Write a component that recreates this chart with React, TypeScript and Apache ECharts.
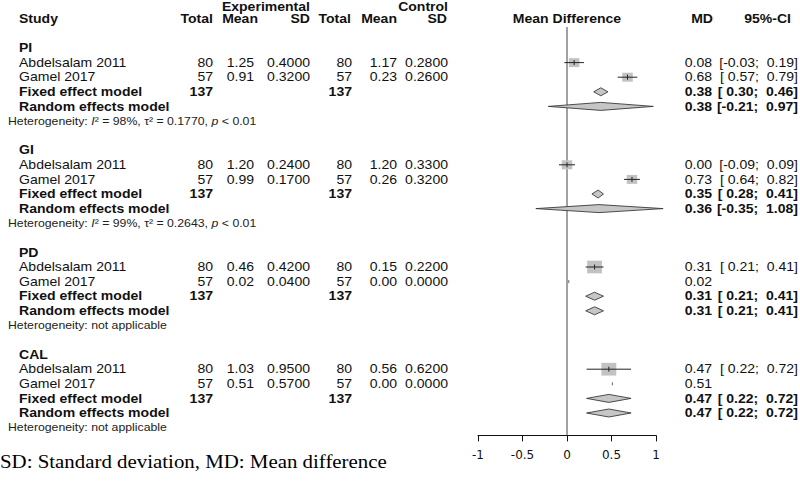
import React, { useEffect, useRef } from 'react';
import * as echarts from 'echarts';

// ---------- data ----------
const outcomes = ['PI', 'GI', 'PD', 'CAL'];
const studyNames = ['Abdelsalam 2011', 'Gamel 2017'];
const expTotal = [80, 57];
const ctrlTotal = [80, 57];
const expMean = [[1.25, 0.91], [1.2, 0.99], [0.46, 0.02], [1.03, 0.51]];
const expSD = [[0.4, 0.32], [0.24, 0.17], [0.42, 0.04], [0.95, 0.57]];
const ctrlMean = [[1.17, 0.23], [1.2, 0.26], [0.15, 0.0], [0.56, 0.0]];
const ctrlSD = [[0.28, 0.26], [0.33, 0.32], [0.22, 0.0], [0.62, 0.0]];
const studyMD = [[0.08, 0.68], [0.0, 0.73], [0.31, 0.02], [0.47, 0.51]];
const studyLow: (number | null)[][] = [[-0.03, 0.57], [-0.09, 0.64], [0.21, null], [0.22, null]];
const studyHigh: (number | null)[][] = [[0.19, 0.79], [0.09, 0.82], [0.41, null], [0.72, null]];
const studyWeight = [[50, 50], [50, 50], [100, 0], [100, 0]];
const fixedMD = [0.38, 0.35, 0.31, 0.47];
const fixedLow = [0.3, 0.28, 0.21, 0.22];
const fixedHigh = [0.46, 0.41, 0.41, 0.72];
const randomMD = [0.38, 0.36, 0.31, 0.47];
const randomLow = [-0.21, -0.35, 0.21, 0.22];
const randomHigh = [0.97, 1.08, 0.41, 0.72];
const hetI2 = [98, 99, null, null];
const hetTau2 = [0.177, 0.2643, null, null];
const hetP = ['< 0.01', '< 0.01', null, null];
const xTicks = [-1, -0.5, 0, 0.5, 1];
const footnote = 'SD: Standard deviation, MD: Mean difference';

// ---------- layout / style ----------
const W = 800;
const H = 484;
const ROW0 = 48; // pixel y of row 0
const PITCH = 14.6; // px per row
const AXIS_Y = 435.4; // pixel y of the x axis line
const Y_MIN = -3;
const Y_MAX = (AXIS_Y - ROW0) / PITCH;
const SX = 1.17; // horizontal stretch of the original figure
const FONT = '"Liberation Sans", Arial, Helvetica, sans-serif';
const TXT = '#111';
const COL = {
  study: 19,
  expN: 213,
  expMean: 254,
  expSD: 310,
  ctrlN: 352,
  ctrlMean: 397,
  ctrlSD: 448,
  md: 712,
  ci: 798,
  het: 8,
};

const f2 = (v: number) => v.toFixed(2);
const f4 = (v: number) => v.toFixed(4);
const pad = (v: number) => (v < 0 ? v.toFixed(2) : ' ' + v.toFixed(2));
const ci = (lo: number | null, hi: number | null) =>
  lo === null || hi === null ? '' : `[${pad(lo)}; ${pad(hi)}]`;

type Row = { k: number; kind: string; g: number; s: number };
const rows: Row[] = [];
outcomes.forEach((_, g) => {
  const base = g * 7;
  rows.push({ k: base, kind: 'group', g, s: -1 });
  studyNames.forEach((__, s) => rows.push({ k: base + 1 + s, kind: 'study', g, s }));
  rows.push({ k: base + 3, kind: 'fixed', g, s: -1 });
  rows.push({ k: base + 4, kind: 'random', g, s: -1 });
  rows.push({ k: base + 5, kind: 'het', g, s: -1 });
});
const headerRows: Row[] = [
  { k: -2.85, kind: 'header0', g: -1, s: -1 },
  { k: -1.99, kind: 'header', g: -1, s: -1 },
];
const tableRows = headerRows.concat(rows);

function txt(text: string, x: number, y: number, align: string, bold = false, size = 12) {
  return {
    type: 'text',
    x,
    y,
    scaleX: SX,
    silent: true,
    style: {
      text,
      x: 0,
      y: 0,
      align,
      verticalAlign: 'middle',
      fontFamily: FONT,
      fontSize: size,
      fontWeight: bold ? 'bold' : 'normal',
      fill: TXT,
    },
  };
}

function hetText(g: number, x: number, y: number) {
  const size = 10.5;
  const rich = {
    n: { fontFamily: FONT, fontSize: size, fill: '#222' },
    i: { fontFamily: FONT, fontSize: size, fill: '#222', fontStyle: 'italic' },
  };
  const text =
    hetI2[g] === null
      ? '{n|Heterogeneity: not applicable}'
      : `{n|Heterogeneity: }{i|I}{n|² = ${hetI2[g]}%, τ² = ${f4(hetTau2[g] as number)}, }{i|p}{n| ${hetP[g]}}`;
  return {
    type: 'text',
    x,
    y,
    scaleX: SX,
    silent: true,
    style: { text, x: 0, y: 0, align: 'left', verticalAlign: 'middle', rich, fontFamily: FONT, fontSize: size, fill: '#222' },
  };
}

function tableItem(params: any, api: any) {
  const r = tableRows[params.dataIndex];
  const y = api.coord([0, r.k])[1];
  const zeroX = api.coord([0, r.k])[0];
  const ch: any[] = [];
  if (r.kind === 'header0') {
    ch.push(txt('Experimental', COL.expSD, y, 'right', true));
    ch.push(txt('Control', COL.ctrlSD, y, 'right', true));
  } else if (r.kind === 'header') {
    ch.push(txt('Study', COL.study, y, 'left', true));
    ch.push(txt('Total', COL.expN, y, 'right', true));
    ch.push(txt('Mean', 258, y, 'right', true));
    ch.push(txt('SD', COL.expSD, y, 'right', true));
    ch.push(txt('Total', COL.ctrlN - 1, y, 'right', true));
    ch.push(txt('Mean', COL.ctrlMean, y, 'right', true));
    ch.push(txt('SD', COL.ctrlSD - 1, y, 'right', true));
    ch.push(txt('Mean Difference', zeroX, y, 'center', true));
    ch.push(txt('MD', 713, y, 'right', true));
    ch.push(txt('95%-CI', 791, y, 'right', true));
  } else if (r.kind === 'group') {
    ch.push(txt(outcomes[r.g], COL.study, y, 'left', true));
  } else if (r.kind === 'study') {
    const g = r.g;
    const s = r.s;
    ch.push(txt(studyNames[s], COL.study, y, 'left'));
    ch.push(txt(String(expTotal[s]), COL.expN, y, 'right'));
    ch.push(txt(f2(expMean[g][s]), COL.expMean, y, 'right'));
    ch.push(txt(f4(expSD[g][s]), COL.expSD, y, 'right'));
    ch.push(txt(String(ctrlTotal[s]), COL.ctrlN, y, 'right'));
    ch.push(txt(f2(ctrlMean[g][s]), COL.ctrlMean, y, 'right'));
    ch.push(txt(f4(ctrlSD[g][s]), COL.ctrlSD, y, 'right'));
    ch.push(txt(f2(studyMD[g][s]), COL.md, y, 'right'));
    const c = ci(studyLow[g][s], studyHigh[g][s]);
    if (c) ch.push(txt(c, COL.ci, y, 'right'));
  } else if (r.kind === 'fixed') {
    const nE = expTotal.reduce((a, b) => a + b, 0);
    const nC = ctrlTotal.reduce((a, b) => a + b, 0);
    ch.push(txt('Fixed effect model', COL.study, y, 'left', true));
    ch.push(txt(String(nE), COL.expN, y, 'right', true));
    ch.push(txt(String(nC), COL.ctrlN, y, 'right', true));
    ch.push(txt(f2(fixedMD[r.g]), COL.md, y, 'right', true));
    ch.push(txt(ci(fixedLow[r.g], fixedHigh[r.g]), COL.ci, y, 'right', true));
  } else if (r.kind === 'random') {
    ch.push(txt('Random effects model', COL.study, y, 'left', true));
    ch.push(txt(f2(randomMD[r.g]), COL.md, y, 'right', true));
    ch.push(txt(ci(randomLow[r.g], randomHigh[r.g]), COL.ci, y, 'right', true));
  } else if (r.kind === 'het') {
    ch.push(hetText(r.g, COL.het, y));
  }
  return { type: 'group', children: ch };
}

// study marks
type StudyMark = { md: number; k: number; lo: number | null; hi: number | null; w: number };
const studyMarks: StudyMark[] = [];
rows.forEach((r) => {
  if (r.kind === 'study') {
    studyMarks.push({
      md: studyMD[r.g][r.s],
      k: r.k,
      lo: studyLow[r.g][r.s],
      hi: studyHigh[r.g][r.s],
      w: studyWeight[r.g][r.s],
    });
  }
});

function studyItem(params: any, api: any) {
  const m = studyMarks[params.dataIndex];
  const [cx, cy] = api.coord([m.md, m.k]);
  const ch: any[] = [];
  if (m.w > 0) {
    const h = 1.27 * Math.sqrt(m.w);
    const w = h * SX;
    ch.push({
      type: 'rect',
      shape: { x: cx - w / 2, y: cy - h / 2, width: w, height: h },
      style: { fill: '#c2c2c2', stroke: null },
    });
  }
  if (m.lo !== null && m.hi !== null) {
    const x1 = api.coord([m.lo, m.k])[0];
    const x2 = api.coord([m.hi, m.k])[0];
    ch.push({
      type: 'line',
      shape: { x1, y1: cy, x2, y2: cy },
      style: { stroke: '#222', lineWidth: 1 },
    });
    ch.push({
      type: 'line',
      shape: { x1: cx, y1: cy - 2.5, x2: cx, y2: cy + 2.5 },
      style: { stroke: '#222', lineWidth: 1 },
    });
  } else {
    ch.push({
      type: 'line',
      shape: { x1: cx, y1: cy - 1.5, x2: cx, y2: cy + 1.5 },
      style: { stroke: '#666', lineWidth: 1 },
    });
  }
  return { type: 'group', children: ch };
}

// pooled diamonds
type Diamond = { md: number; k: number; lo: number; hi: number };
const diamonds: Diamond[] = [];
rows.forEach((r) => {
  if (r.kind === 'fixed') diamonds.push({ md: fixedMD[r.g], k: r.k, lo: fixedLow[r.g], hi: fixedHigh[r.g] });
  if (r.kind === 'random') diamonds.push({ md: randomMD[r.g], k: r.k, lo: randomLow[r.g], hi: randomHigh[r.g] });
});

function diamondItem(params: any, api: any) {
  const d = diamonds[params.dataIndex];
  const [cx, cy] = api.coord([d.md, d.k]);
  const xl = api.coord([d.lo, d.k])[0];
  const xr = api.coord([d.hi, d.k])[0];
  const hh = 4;
  return {
    type: 'polygon',
    shape: { points: [[xl, cy], [cx, cy - hh], [xr, cy], [cx, cy + hh]] },
    style: { fill: '#c6c6c6', stroke: '#3a3a3a', lineWidth: 0.9 },
  };
}

export default function App() {
  const ref = useRef<HTMLDivElement>(null);
  useEffect(() => {
    if (!ref.current) return;
    const chart = echarts.init(ref.current, null, { renderer: 'svg' });
    const top = ROW0 + Y_MIN * PITCH;
    const zeroTopK = (27 - ROW0) / PITCH;
    chart.setOption({
      animation: false,
      backgroundColor: '#ffffff',
      grid: { left: 478, right: W - 656, top, bottom: H - AXIS_Y, containLabel: false },
      xAxis: {
        type: 'value',
        min: xTicks[0],
        max: xTicks[xTicks.length - 1],
        interval: xTicks[1] - xTicks[0],
        axisLine: { show: true, onZero: false, lineStyle: { color: '#111', width: 1 } },
        axisTick: { show: true, length: 6, lineStyle: { color: '#111', width: 1 } },
        axisLabel: {
          fontFamily: '"DejaVu Sans", sans-serif',
          fontSize: 12,
          color: TXT,
          margin: 14,
          formatter: (v: number) => String(v),
        },
        splitLine: { show: false },
      },
      yAxis: { type: 'value', inverse: true, min: Y_MIN, max: Y_MAX, show: false },
      graphic: [
        {
          type: 'text',
          x: 0,
          y: 462,
          scaleX: 1.16,
          silent: true,
          style: {
            text: footnote,
            x: 0,
            y: 0,
            align: 'left',
            verticalAlign: 'middle',
            fontFamily: '"Liberation Serif", "Times New Roman", serif',
            fontSize: 18,
            fill: '#000',
          },
        },
      ],
      series: [
        {
          type: 'line',
          data: [[0, zeroTopK], [0, Y_MAX]],
          symbol: 'none',
          lineStyle: { color: '#444', width: 1 },
          silent: true,
          z: 1,
        },
        {
          type: 'custom',
          clip: false,
          silent: true,
          data: tableRows.map((r) => [0, r.k]),
          renderItem: tableItem,
          z: 3,
        },
        {
          type: 'custom',
          clip: false,
          silent: true,
          data: studyMarks.map((m) => [m.md, m.k]),
          renderItem: studyItem,
          z: 2,
        },
        {
          type: 'custom',
          clip: false,
          silent: true,
          data: diamonds.map((d) => [d.md, d.k]),
          renderItem: diamondItem,
          z: 2,
        },
      ],
    });
    return () => chart.dispose();
  }, []);
  return (
    <div
      ref={ref}
      style={{ position: 'absolute', left: 0, top: 0, width: W, height: H, background: '#fff' }}
    />
  );
}
